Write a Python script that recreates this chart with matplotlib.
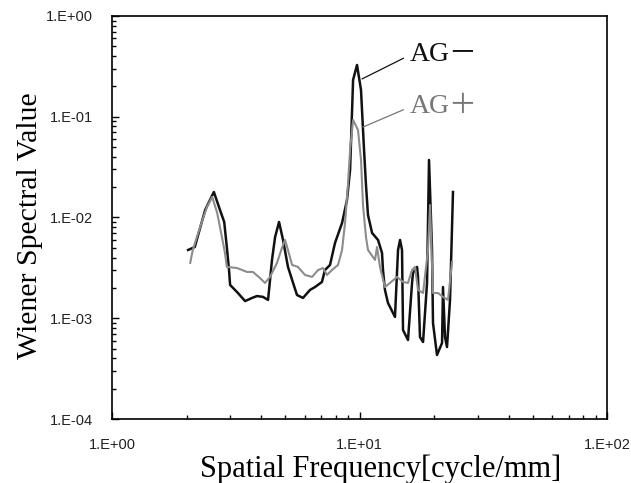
import matplotlib
matplotlib.use("Agg")
import matplotlib.pyplot as plt
from matplotlib.ticker import LogLocator, FuncFormatter, NullFormatter
import numpy as np

# Wiener spectrum, without anti-grid (AG-)
freq_ag_minus = [2.03, 2.16, 2.27, 2.38, 2.58, 2.73, 2.84, 2.91, 2.97, 3.00,
                 3.20, 3.45, 3.68, 3.85, 4.07, 4.27, 4.31, 4.43, 4.56, 4.73,
                 4.91, 5.14, 5.39, 5.59, 5.91, 6.31, 6.61, 7.05, 7.25, 7.60,
                 7.96, 8.50, 8.90, 9.16, 9.42, 9.77, 10.14, 10.43, 10.62, 10.82,
                 11.24, 11.88, 12.33, 12.44, 12.67, 13.03, 13.91, 14.31, 14.58, 14.85,
                 14.99, 15.70, 16.30, 16.45, 17.08, 17.23, 17.55, 18.06, 18.74, 19.09,
                 19.63, 19.81, 20.56, 21.55, 21.74, 22.15, 22.57, 23.21, 23.86]
wsv_ag_minus = [0.00476, 0.00509, 0.00787, 0.0119, 0.0179, 0.0119, 0.00902, 0.00509, 0.00301, 0.00214,
                0.00182, 0.00148, 0.00159, 0.00166, 0.00163, 0.00152, 0.00191, 0.00379, 0.00640, 0.00902,
                0.00598, 0.00323, 0.00224, 0.00170, 0.00159, 0.00191, 0.00204, 0.00229, 0.00301, 0.00338,
                0.00558, 0.00882, 0.0149, 0.0296, 0.232, 0.326, 0.184, 0.0468, 0.0210, 0.0106,
                0.00702, 0.00598, 0.00444, 0.00301, 0.00191, 0.00142, 0.00103, 0.00476, 0.00598, 0.00476,
                0.000764, 0.000608, 0.00224, 0.00281, 0.00323, 0.00257, 0.000651, 0.000581, 0.00224, 0.0372,
                0.00476, 0.000897, 0.000432, 0.000568, 0.00204, 0.000651, 0.000518, 0.00152, 0.0179]

# Wiener spectrum, with anti-grid (AG+)
freq_ag_plus = [2.07, 2.12, 2.27, 2.42, 2.54, 2.66, 2.78, 2.86, 2.91, 3.20,
                3.51, 3.71, 3.96, 4.15, 4.35, 4.64, 4.86, 5.00, 5.14, 5.34,
                5.64, 6.02, 6.43, 6.80, 7.12, 7.39, 7.74, 8.19, 8.50, 8.74,
                8.99, 9.16, 9.42, 9.86, 10.14, 10.33, 10.62, 10.82, 11.55, 11.77,
                12.10, 12.67, 13.28, 14.18, 14.99, 15.70, 16.30, 16.76, 17.23, 18.06,
                18.91, 19.27, 19.81, 20.75, 21.74, 22.78, 23.65]
wsv_ag_plus = [0.00354, 0.00476, 0.00805, 0.0127, 0.0160, 0.0111, 0.00640, 0.00444, 0.00323, 0.00315,
               0.00288, 0.00288, 0.00251, 0.00224, 0.00257, 0.00354, 0.00498, 0.00598, 0.00476, 0.00338,
               0.00323, 0.00269, 0.00257, 0.00301, 0.00315, 0.00269, 0.00301, 0.00338, 0.00476, 0.00882,
               0.0220, 0.0468, 0.0929, 0.0739, 0.0372, 0.0133, 0.00640, 0.00476, 0.00379, 0.00509,
               0.00323, 0.00204, 0.00224, 0.00257, 0.00229, 0.00224, 0.00301, 0.00323, 0.00191, 0.00178,
               0.00476, 0.0133, 0.00178, 0.00178, 0.00163, 0.00152, 0.00362]

y_exponents = [0, -1, -2, -3, -4]
x_exponents = [0, 1, 2]

serif = ["Liberation Serif", "DejaVu Serif"]
label_fonts = ["Liberation Serif", "Noto Sans CJK JP", "DejaVu Serif"]
sans = ["Liberation Sans", "DejaVu Sans"]

fig = plt.figure(figsize=(6.31, 4.83), dpi=100)
ax = fig.add_axes([0.1775, 0.1325, 0.7845, 0.8345])

ax.plot(freq_ag_minus, wsv_ag_minus, color="#111111", lw=1.8, zorder=2)
ax.plot(freq_ag_plus, wsv_ag_plus, color="#8c8c8c", lw=1.5, zorder=3)

ax.set_xscale("log")
ax.set_yscale("log")
ax.set_xlim(1, 100)
ax.set_ylim(1e-4, 1)

def exp_label(v, pos):
    e = int(round(np.log10(v)))
    return f"1.E{e:+03d}"

ax.set_xticks([10.0 ** e for e in x_exponents])
ax.set_yticks([10.0 ** e for e in y_exponents])
ax.xaxis.set_major_formatter(FuncFormatter(exp_label))
ax.yaxis.set_major_formatter(FuncFormatter(exp_label))
ax.xaxis.set_minor_locator(LogLocator(base=10, subs=np.arange(2, 10)))
ax.yaxis.set_minor_locator(LogLocator(base=10, subs=np.arange(2, 10)))
ax.xaxis.set_minor_formatter(NullFormatter())
ax.yaxis.set_minor_formatter(NullFormatter())

ax.tick_params(which="both", direction="in", top=False, right=False, width=1.0)
ax.tick_params(which="major", length=5)
ax.tick_params(which="minor", length=3)
ax.tick_params(axis="x", which="major", pad=14)
ax.tick_params(axis="y", which="major", pad=14)
for lbl in ax.get_xticklabels() + ax.get_yticklabels():
    lbl.set_family(sans)
    lbl.set_fontsize(10.5)
    lbl.set_color("#222222")

for s in ax.spines.values():
    s.set_linewidth(1.2)

ax.set_xlabel("Spatial Frequency[cycle/mm]", family=serif, fontsize=22)
ax.set_ylabel("Wiener Spectral Value", family=serif, fontsize=21.5)
ax.xaxis.set_label_coords(0.543, -0.088)
ax.yaxis.set_label_coords(-0.139, 0.48)

# curve labels with leader lines
ax.annotate("AG\uff0d", xy=(10.24, 0.237), xytext=(16.0, 0.41),
            family=label_fonts, fontsize=20, color="#111111", va="center",
            arrowprops=dict(arrowstyle="-", color="#111111", lw=0.9, shrinkA=3, shrinkB=0,
                            relpos=(0, 0.5)))
ax.annotate("AG\uff0b", xy=(10.33, 0.079), xytext=(16.0, 0.125),
            family=label_fonts, fontsize=20, color="#777777", va="center",
            arrowprops=dict(arrowstyle="-", color="#777777", lw=0.9, shrinkA=3, shrinkB=0,
                            relpos=(0, 0.5)))

fig.savefig("out.png", dpi=100)
